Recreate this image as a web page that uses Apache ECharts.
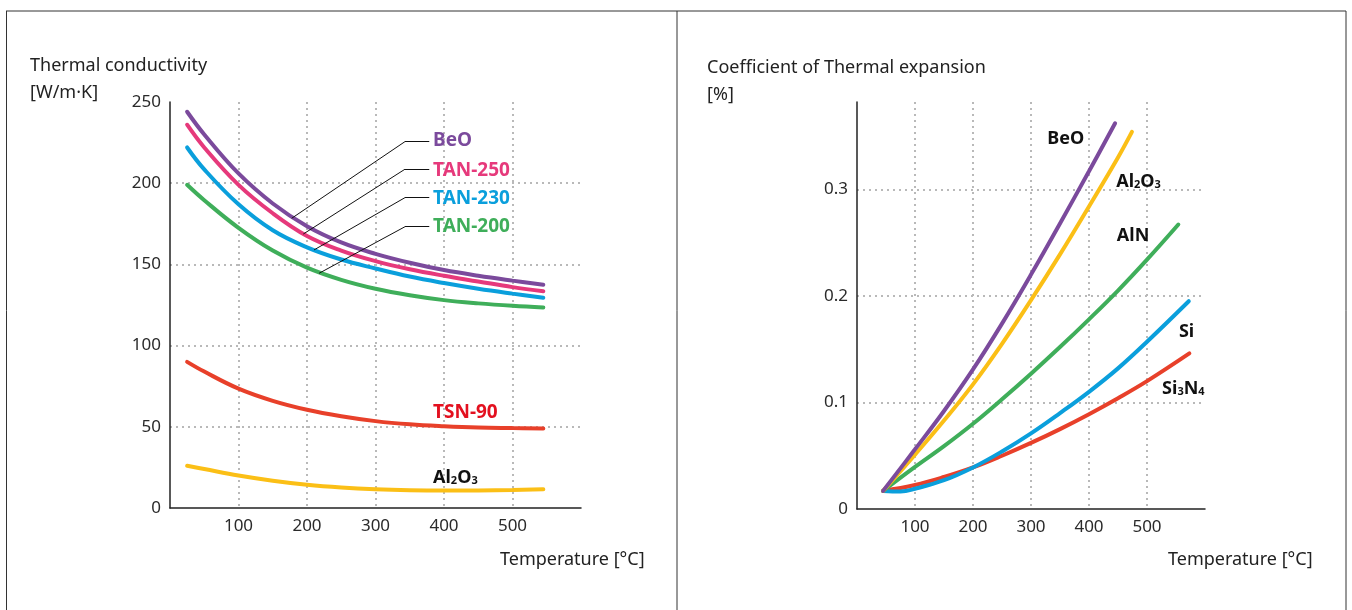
<!DOCTYPE html>
<html>
<head>
<meta charset="utf-8">
<script src="https://cdn.jsdelivr.net/npm/echarts@6/dist/echarts.min.js"></script>
<style>
  html, body { margin: 0; padding: 0; background: #fff; }
  #chart { width: 1352px; height: 610px; }
</style>
</head>
<body>
<div id="chart"></div>
<script>
// thermal conductivity [W/m·K] vs temperature [°C]
const tcBeO    = [[25,244],[50,230],[100,206],[150,187.5],[200,173.5],[250,163.5],[300,156.5],[350,151],[400,146.5],[450,143],[500,140],[545,137.5]];
const tcTan250 = [[25,236],[50,222],[100,199],[150,181.5],[200,167.5],[250,158.5],[300,152],[350,147],[400,143],[450,139.5],[500,136],[545,133.5]];
const tcTan230 = [[25,222],[50,208.5],[100,187],[150,171],[200,160.5],[250,153],[300,147.5],[350,142.5],[400,138.5],[450,135],[500,132],[545,129.5]];
const tcTan200 = [[25,199],[50,189.5],[100,172.5],[150,158.5],[200,148],[250,140.5],[300,135],[350,131],[400,128],[450,126],[500,124.5],[545,123.5]];
const tcTsn90  = [[25,90],[50,84],[100,73.5],[150,66],[200,60.5],[250,56.5],[300,53.5],[350,51.5],[400,50.3],[450,49.5],[500,49.2],[545,49]];
const tcAl2O3  = [[25,26],[50,24],[100,20],[150,16.8],[200,14.3],[250,12.6],[300,11.5],[350,10.9],[400,10.7],[450,10.8],[500,11.1],[545,11.5]];

// coefficient of thermal expansion [%] vs temperature [°C]
const ctBeO   = [[45,0.017],[100,0.056],[150,0.092],[200,0.131],[250,0.174],[300,0.220],[350,0.268],[400,0.317],[445,0.362]];
const ctAl2O3 = [[45,0.017],[100,0.051],[150,0.083],[200,0.117],[250,0.155],[300,0.196],[350,0.239],[400,0.284],[450,0.330],[474,0.354]];
const ctAlN   = [[45,0.017],[100,0.0395],[150,0.059],[200,0.080],[250,0.103],[300,0.127],[350,0.152],[400,0.178],[450,0.205],[500,0.234],[554,0.267]];
const ctSi    = [[45,0.017],[75,0.0165],[100,0.019],[150,0.027],[200,0.039],[250,0.054],[300,0.071],[350,0.090],[400,0.110],[450,0.132],[500,0.157],[572,0.195]];
const ctSi3N4 = [[45,0.017],[100,0.0225],[150,0.030],[200,0.039],[250,0.050],[300,0.062],[350,0.075],[400,0.089],[450,0.104],[500,0.120],[573,0.146]];

// label anchors (data coords) and leader lines for the left chart
const tcLabelAt = { BeO:[384,226], TAN250:[384,208], TAN230:[384,190.5], TAN200:[384,173.5], TSN90:[384,59], Al2O3:[384,20] };
const tcLeaders = {
  BeO:    [[177.7,178.4],[343,225.6],[378.5,225.6]],
  TAN250: [[194.6,168.7],[343,208.6],[378.5,208.6]],
  TAN230: [[210.2,158.9],[343,191.1],[378.5,191.1]],
  TAN200: [[217.5,144.5],[343,173.2],[378.5,173.2]]
};
const ctLabelAt = { BeO:[328,0.347], Al2O3:[447,0.309], AlN:[448,0.256], Si:[555,0.166], Si3N4:[526,0.115] };

const FONT = 'Noto Sans';
const C = {
  purple: '#7b4a9c', pink: '#e6397b', blue: '#0a9fdc', green: '#3fae5a',
  red: '#e8402a', yellow: '#fbbf16', tsnText: '#e3101f'
};

const richChem = {
  b: { fontFamily: FONT, fontWeight: 'bold', fontSize: 18, color: '#111', verticalAlign: 'bottom', lineHeight: 22 },
  s: { fontFamily: FONT, fontWeight: 'bold', fontSize: 11, color: '#111', verticalAlign: 'bottom', lineHeight: 19 }
};

function leader(pts) {
  const segs = [];
  for (let i = 0; i < pts.length - 1; i++) segs.push([{ coord: pts[i] }, { coord: pts[i + 1] }]);
  return {
    silent: true, symbol: ['none', 'none'], animation: false,
    lineStyle: { color: '#111', width: 1, type: 'solid' },
    label: { show: false }, emphasis: { disabled: true },
    data: segs
  };
}

function tag(at, text, color, rich, size) {
  return {
    silent: true, animation: false,
    data: [{
      coord: at, symbol: 'circle', symbolSize: 0,
      label: {
        show: true, position: 'right', distance: 0, formatter: text,
        fontFamily: FONT, fontWeight: 'bold', fontSize: size || 18, color: color,
        rich: rich
      }
    }]
  };
}

function curve(name, data, color, grid, extra) {
  return Object.assign({
    name: name, type: 'line', data: data,
    xAxisIndex: grid, yAxisIndex: grid,
    smooth: 0.4, symbol: 'none', animation: false,
    lineStyle: { color: color, width: 4, cap: 'round' }
  }, extra || {});
}

const dotted = { color: '#b9b9b9', width: 2, type: [2, 4] };
const axisText = { fontFamily: FONT, fontSize: 17, color: '#2a2a2a' };
const axisLine = { show: true, lineStyle: { color: '#222', width: 1.5 } };
const titleText = { fontFamily: FONT, fontSize: 18, fontWeight: 'normal', color: '#222', lineHeight: 27 };

function xAx(grid) {
  return {
    type: 'value', gridIndex: grid, min: 0, max: 600, interval: 100,
    axisLine: axisLine, axisTick: { show: false },
    axisLabel: Object.assign({ margin: 10, showMinLabel: false, showMaxLabel: false }, axisText),
    splitLine: { show: true, showMinLine: false, showMaxLine: false, lineStyle: dotted }
  };
}

const chart = echarts.init(document.getElementById('chart'));
chart.setOption({
  backgroundColor: '#fff',
  title: [
    { text: 'Thermal conductivity\n[W/m·K]', left: 30, top: 52, padding: 0, textStyle: titleText },
    { text: 'Coefficient of Thermal expansion\n[%]', left: 707, top: 54, padding: 0, textStyle: titleText },
    { text: 'Temperature [°C]', left: 500, top: 546, padding: 0, textStyle: titleText },
    { text: 'Temperature [°C]', left: 1168, top: 546, padding: 0, textStyle: titleText }
  ],
  graphic: [
    { type: 'line', shape: { x1: 6, y1: 11, x2: 1346, y2: 11 }, style: { stroke: '#333', lineWidth: 1 } },
    { type: 'line', shape: { x1: 6.5, y1: 11, x2: 6.5, y2: 610 }, style: { stroke: '#333', lineWidth: 1 } },
    { type: 'line', shape: { x1: 677, y1: 11, x2: 677, y2: 610 }, style: { stroke: '#333', lineWidth: 1 } },
    { type: 'line', shape: { x1: 1346, y1: 11, x2: 1346, y2: 610 }, style: { stroke: '#333', lineWidth: 1 } }
  ],
  grid: [
    { left: 170, right: 771, top: 102, bottom: 102 },
    { left: 857, right: 147, top: 102, bottom: 101 }
  ],
  xAxis: [xAx(0), xAx(1)],
  yAxis: [
    { type: 'value', gridIndex: 0, min: 0, max: 250, interval: 50,
      axisLine: axisLine, axisTick: { show: false },
      axisLabel: Object.assign({ margin: 9 }, axisText),
      splitLine: { show: true, showMinLine: false, showMaxLine: false, lineStyle: dotted } },
    { type: 'value', gridIndex: 1, min: 0, max: 0.382, interval: 0.1,
      axisLine: axisLine, axisTick: { show: false },
      axisLabel: Object.assign({ margin: 9, showMaxLabel: false }, axisText),
      splitLine: { show: true, showMinLine: false, showMaxLine: false, lineStyle: dotted } }
  ],
  series: [
    curve('TAN-200', tcTan200, C.green, 0, { markLine: leader(tcLeaders.TAN200), markPoint: tag(tcLabelAt.TAN200, 'TAN-200', C.green, null, 19) }),
    curve('TAN-230', tcTan230, C.blue, 0, { markLine: leader(tcLeaders.TAN230), markPoint: tag(tcLabelAt.TAN230, 'TAN-230', C.blue, null, 19) }),
    curve('TAN-250', tcTan250, C.pink, 0, { markLine: leader(tcLeaders.TAN250), markPoint: tag(tcLabelAt.TAN250, 'TAN-250', C.pink, null, 19) }),
    curve('BeO', tcBeO, C.purple, 0, { markLine: leader(tcLeaders.BeO), markPoint: tag(tcLabelAt.BeO, 'BeO', C.purple, null, 19) }),
    curve('TSN-90', tcTsn90, C.red, 0, { markPoint: tag(tcLabelAt.TSN90, 'TSN-90', C.tsnText, null, 19) }),
    curve('Al2O3', tcAl2O3, C.yellow, 0, { markPoint: tag(tcLabelAt.Al2O3, '{b|Al}{s|2}{b|O}{s|3}', '#111', richChem) }),

    curve('Si3N4', ctSi3N4, C.red, 1, { markPoint: tag(ctLabelAt.Si3N4, '{b|Si}{s|3}{b|N}{s|4}', '#111', richChem) }),
    curve('Si', ctSi, C.blue, 1, { markPoint: tag(ctLabelAt.Si, 'Si', '#111') }),
    curve('AlN', ctAlN, C.green, 1, { markPoint: tag(ctLabelAt.AlN, 'AlN', '#111') }),
    curve('Al2O3 ', ctAl2O3, C.yellow, 1, { markPoint: tag(ctLabelAt.Al2O3, '{b|Al}{s|2}{b|O}{s|3}', '#111', richChem) }),
    curve('BeO ', ctBeO, C.purple, 1, { markPoint: tag(ctLabelAt.BeO, 'BeO', '#111') })
  ]
});
</script>
</body>
</html>
